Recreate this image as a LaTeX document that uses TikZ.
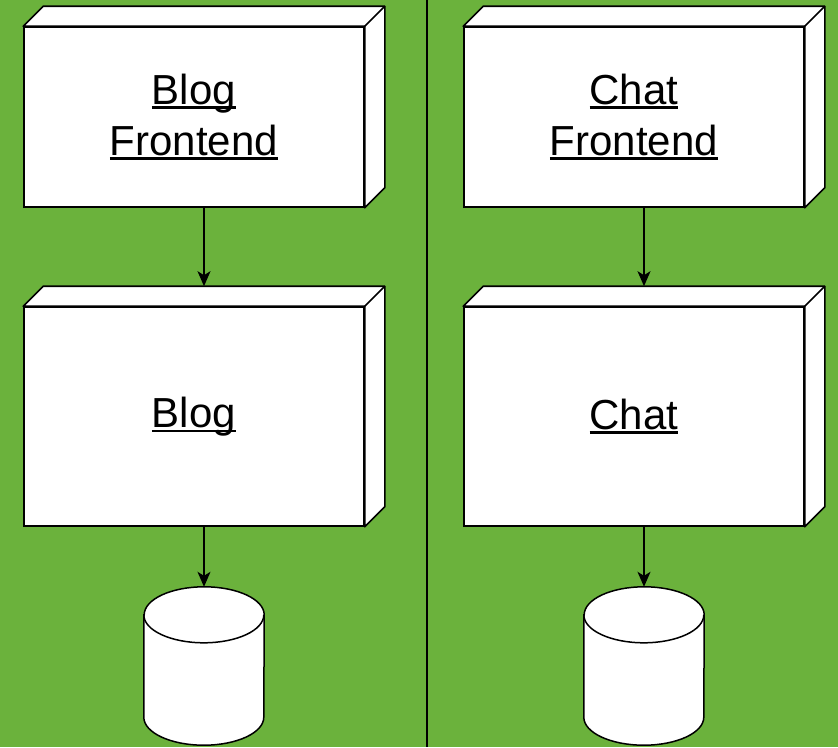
\documentclass[tikz,border=0pt]{standalone}
\usepackage{fontspec}
\setmainfont{Liberation Sans}
\usetikzlibrary{arrows.meta}
\definecolor{bggreen}{RGB}{107,178,60}
\newcommand{\ultext}[1]{\setbox0\hbox{#1}\rlap{\rule[-5pt]{\wd0}{2.8pt}}\box0}
\tikzset{
  nodebox/.style={draw,line width=1.6pt,fill=white,minimum width=340pt,inner sep=0pt,align=center,
    font=\fontsize{42}{51}\selectfont},
  dbcyl/.style={minimum width=120pt,minimum height=158pt,inner sep=0pt},
  cylline/.style={line width=1.5pt,fill=white},
  conn/.style={-{Stealth[length=15pt,width=13pt,inset=4pt]},line width=1.5pt},
}

\begin{document}
\begin{tikzpicture}[x=1pt,y=-1pt]
  \useasboundingbox (0,0) rectangle (838,747);
  \fill[bggreen] (0,0) rectangle (838,747);
  \draw[line width=1.8pt] (427,0) -- (427,747);

  \node[nodebox,minimum height=180pt] (blogfe) at (194,117) {\ultext{Blog}\\\ultext{Frontend}};
  \node[nodebox,minimum height=219pt] (blog)   at (194,416.5) {\ultext{Blog}};
  \node[nodebox,minimum height=180pt] (chatfe) at (634,117) {\ultext{Chat}\\\ultext{Frontend}};
  \node[nodebox,minimum height=219pt] (chat)   at (634,416.5) {\ultext{Chat}};

  % 3d top and side
  \foreach \n in {blogfe,blog,chatfe,chat}{
    \draw[line width=1.6pt,fill=white,line join=round] (\n.north west) -- ++(20,-20)
      -- ([shift={(20,-20)}]\n.north east) -- ([shift={(20,-20)}]\n.south east)
      -- (\n.south east) -- (\n.north east) -- cycle;
    \draw[line width=1.6pt] (\n.north east) -- ++(20,-20);
  }

  % databases
  \node[dbcyl] (blogdb) at (204,666) {};
  \node[dbcyl] (chatdb) at (644,666) {};
  \foreach \n in {blogdb,chatdb}{
    \draw[cylline] ([yshift=-28pt]\n.north west) -- ([yshift=28pt]\n.south west)
      arc[start angle=180,end angle=0,x radius=60,y radius=28]
      -- ([yshift=-28pt]\n.north east)
      arc[start angle=0,end angle=-180,x radius=60,y radius=28] -- cycle;
    \draw[line width=1.5pt] ([yshift=-28pt]\n.north west)
      arc[start angle=180,end angle=0,x radius=60,y radius=28];
  }

  \path
    ([xshift=10pt]blogfe.south) edge[conn] ([shift={(10,-20)}]blog.north)
    ([xshift=10pt]blog.south)   edge[conn] (blogdb.north)
    ([xshift=10pt]chatfe.south) edge[conn] ([shift={(10,-20)}]chat.north)
    ([xshift=10pt]chat.south)   edge[conn] (chatdb.north);
\end{tikzpicture}
\end{document}
